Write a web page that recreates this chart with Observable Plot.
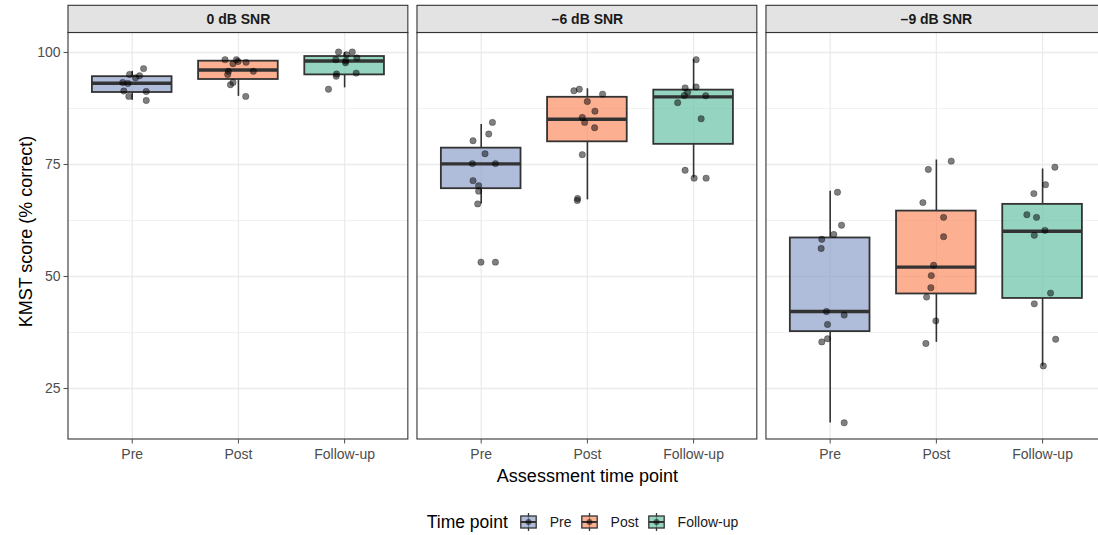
<!DOCTYPE html>
<html><head><meta charset="utf-8">
<script src="https://cdn.jsdelivr.net/npm/d3@7"></script>
<script src="https://cdn.jsdelivr.net/npm/@observablehq/plot@0.6"></script>
<style>
html,body{margin:0;padding:0;background:#fff;overflow:hidden;width:1098px;height:535px;}
#wrap{position:relative;width:1106px;height:535px;font-family:"Liberation Sans",Arial,sans-serif;}
#legend{position:absolute;left:68px;width:1038px;top:513px;height:18px;display:flex;justify-content:center;align-items:center;color:#000;}
#legend .title{font-size:17.5px;margin-right:12px;}
#legend svg{display:block;margin-right:13px;}
#legend .lab{font-size:14px;color:#1a1a1a;margin-right:9px;}
</style></head><body><div id="wrap"><div id="chart"></div><div id="legend"></div></div>
<script>
// ---- data ----
const panels = ["0 dB SNR", "\u20136 dB SNR", "\u20139 dB SNR"];
const timepoints = ["Pre", "Post", "Follow-up"];
const colors = ["#8DA0CB", "#FC8D62", "#66C2A5"];
const yTicks = [25, 50, 75, 100];

// box statistics, order: panel x timepoint
const boxLow    = [89.3, 90.2, 92.1,   66.2, 67.1, 72.0,   17.3, 35.3, 30.0];
const boxQ1     = [91.07, 93.97, 95.0, 69.6, 80.06, 79.5,  37.7, 46.1, 45.1];
const boxMedian = [93.15, 96.1, 98.1,  75.15, 85.1, 90.1,  42.2, 52.1, 60.1];
const boxQ3     = [94.6, 98.06, 99.1,  78.65, 90.0, 91.6,  58.6, 64.6, 66.1];
const boxHigh   = [95.8, 98.4, 100.0,  83.9, 91.9, 98.4,   69.05, 76.0, 74.0];

// individual scores per panel/timepoint and their horizontal jitter (category units)
const scores0dB = [
  [96.4, 95.1, 94.8, 94.35, 93.3, 93.1, 91.4, 91.3, 90.2, 89.3],
  [98.4, 98.4, 98.0, 97.5, 97.8, 95.8, 95.8, 95.1, 93.3, 92.8, 90.2],
  [100.1, 100.1, 99.5, 98.4, 98.8, 98.1, 97.7, 95.2, 94.7, 95.4, 91.8]
];
const jitter0dB = [
  [0.107, -0.025, 0.069, 0.031, -0.089, -0.041, -0.079, 0.132, -0.032, 0.132],
  [-0.126, -0.019, -0.004, -0.051, 0.072, 0.141, -0.094, -0.101, -0.051, -0.075, 0.069],
  [-0.057, 0.072, 0.018, -0.083, 0.115, 0.011, 0.008, -0.076, -0.079, 0.109, -0.152]
];
const scores6dB = [
  [84.4, 81.8, 80.3, 77.4, 75.2, 75.2, 71.4, 70.25, 69.05, 66.2, 53.2, 53.2],
  [91.45, 91.8, 90.7, 89.06, 86.9, 85.5, 84.4, 83.2, 77.2, 67.4, 66.96],
  [98.4, 92.1, 92.3, 91.15, 90.4, 90.33, 88.8, 85.2, 73.7, 71.95, 71.95]
];
const jitter6dB = [
  [0.106, 0.071, -0.077, 0.036, -0.083, 0.134, -0.077, -0.024, -0.024, -0.033, -0.002, 0.134],
  [-0.127, -0.076, 0.143, -0.001, 0.071, -0.048, -0.026, 0.068, -0.048, -0.092, -0.095],
  [0.024, -0.080, 0.024, -0.056, -0.087, 0.114, -0.150, 0.071, -0.080, 0.005, 0.118]
];
const scores9dB = [
  [68.8, 61.45, 59.4, 58.3, 56.25, 42.2, 41.4, 39.3, 36.1, 35.4, 17.35],
  [75.75, 73.9, 66.5, 63.2, 58.9, 52.5, 50.2, 47.5, 45.4, 40.1, 35.05],
  [74.4, 70.5, 68.5, 63.8, 63.2, 60.3, 59.2, 46.3, 43.9, 36.0, 30.05]
];
const jitter9dB = [
  [0.069, 0.107, 0.034, -0.079, -0.085, -0.035, 0.132, -0.025, -0.025, -0.079, 0.132],
  [0.140, -0.076, -0.127, 0.068, 0.068, -0.026, -0.048, -0.052, -0.092, -0.005, -0.099],
  [0.116, 0.028, -0.082, -0.148, -0.057, 0.022, -0.078, 0.075, -0.078, 0.123, 0.007]
];
const xTitle = "Assessment time point";
const yTitle = "KMST score (% correct)";
const legendTitle = "Time point";

// ---- layout helpers ----
const S = 3.286;             // panel step in category units
const yMin = 13.62, yMax = 104.35, stripTop = 110.42;
const pos = (pi, ti) => pi * S + ti + 1;

const boxes = [];
panels.forEach((p, pi) => timepoints.forEach((t, ti) => {
  const k = pi * 3 + ti;
  boxes.push({pi, ti, t, x: pos(pi, ti), lo: boxLow[k], q1: boxQ1[k], med: boxMedian[k], q3: boxQ3[k], hi: boxHigh[k]});
}));
const allScores = [scores0dB, scores6dB, scores9dB];
const allJitter = [jitter0dB, jitter6dB, jitter9dB];
const points = [];
allScores.forEach((ps, pi) => ps.forEach((arr, ti) => arr.forEach((v, i) => {
  points.push({x: pos(pi, ti) + allJitter[pi][ti][i], y: v});
})));
const panelRows = panels.map((p, pi) => ({p, x1: pi * S + 0.4, x2: pi * S + 3.6, xc: pi * S + 2}));
const minorGrid = [], majorGrid = [];
panelRows.forEach(r => {
  [37.5, 62.5, 87.5].forEach(v => minorGrid.push({...r, y: v}));
  yTicks.forEach(v => majorGrid.push({...r, y: v}));
});
const xTickPos = boxes.map(b => b.x);
const xTickLab = new Map(boxes.map(b => [b.x, b.t]));
const colorOf = t => colors[timepoints.indexOf(t)];

const chart = Plot.plot({
  width: 1106, height: 490,
  marginLeft: 68, marginRight: 0.2, marginTop: 32.5, marginBottom: 51,
  style: {fontFamily: "'Liberation Sans', Arial, sans-serif", background: "#fff"},
  x: {domain: [0.4, 2 * S + 3.6]},
  y: {domain: [yMin, yMax]},
  marks: [
    Plot.ruleY(minorGrid, {y: "y", x1: "x1", x2: "x2", stroke: "#EBEBEB", strokeWidth: 0.7}),
    Plot.ruleY(majorGrid, {y: "y", x1: "x1", x2: "x2", stroke: "#EBEBEB", strokeWidth: 1.3}),
    Plot.ruleX(xTickPos, {x: d => d, y1: yMin, y2: yMax, stroke: "#EBEBEB", strokeWidth: 1.3}),
    Plot.ruleX(boxes, {x: "x", y1: "lo", y2: "q1", stroke: "#333", strokeWidth: 1.6}),
    Plot.ruleX(boxes, {x: "x", y1: "q3", y2: "hi", stroke: "#333", strokeWidth: 1.6}),
    Plot.rect(boxes, {x1: d => d.x - 0.375, x2: d => d.x + 0.375, y1: "q1", y2: "q3",
      fill: d => colorOf(d.t), fillOpacity: 0.7, stroke: "#333", strokeWidth: 1.8}),
    Plot.ruleY(boxes, {y: "med", x1: d => d.x - 0.375, x2: d => d.x + 0.375, stroke: "#333", strokeWidth: 3.4}),
    Plot.dot(points, {x: "x", y: "y", r: 3.2, fill: "#000", fillOpacity: 0.5, stroke: "#000", strokeOpacity: 0.45, strokeWidth: 0.6}),
    Plot.rect(panelRows, {x1: "x1", x2: "x2", y1: yMin, y2: yMax, fill: "none", stroke: "#333", strokeWidth: 1.1}),
    Plot.rect(panelRows, {x1: "x1", x2: "x2", y1: yMax, y2: stripTop, fill: "#E3E3E3", stroke: "#333", strokeWidth: 1.1}),
    Plot.text(panelRows, {x: "xc", y: (yMax + stripTop) / 2, text: "p", fontSize: 14, fontWeight: "bold", fill: "#1A1A1A"}),
    Plot.axisY({ticks: yTicks, tickSize: 4.5, tickPadding: 3.5, fontSize: 14, color: "#4D4D4D", label: null}),
    Plot.axisX({ticks: xTickPos, tickFormat: d => xTickLab.get(d), tickSize: 4.5, tickPadding: 5.5, fontSize: 14, color: "#4D4D4D", label: null}),
    Plot.text([xTitle], {x: S + 2, frameAnchor: "bottom", dy: 42, text: d => d, fontSize: 18, fill: "#000"}),
    Plot.text([yTitle], {y: 60.04, frameAnchor: "left", textAnchor: "middle", dx: -42, rotate: -90, text: d => d, fontSize: 18, fill: "#000"})
  ]
});
document.getElementById("chart").appendChild(chart);

// legend
const leg = document.getElementById("legend");
const tt = document.createElement("span"); tt.className = "title"; tt.textContent = legendTitle; leg.appendChild(tt);
timepoints.forEach((t, i) => {
  const ns = "http://www.w3.org/2000/svg";
  const svg = document.createElementNS(ns, "svg");
  svg.setAttribute("width", 17); svg.setAttribute("height", 18);
  svg.innerHTML = `<line x1="8.5" x2="8.5" y1="0" y2="18" stroke="#333" stroke-width="1.3"/>
    <rect x="0.8" y="3" width="15.4" height="12" fill="${colors[i]}" fill-opacity="0.7" stroke="#333" stroke-width="1.3"/>
    <line x1="0.8" x2="16.2" y1="9" y2="9" stroke="#333" stroke-width="2"/>
    <circle cx="8.5" cy="9" r="3" fill="#000" fill-opacity="0.5"/>`;
  leg.appendChild(svg);
  const lb = document.createElement("span"); lb.className = "lab"; lb.textContent = t; leg.appendChild(lb);
});
</script></body></html>
